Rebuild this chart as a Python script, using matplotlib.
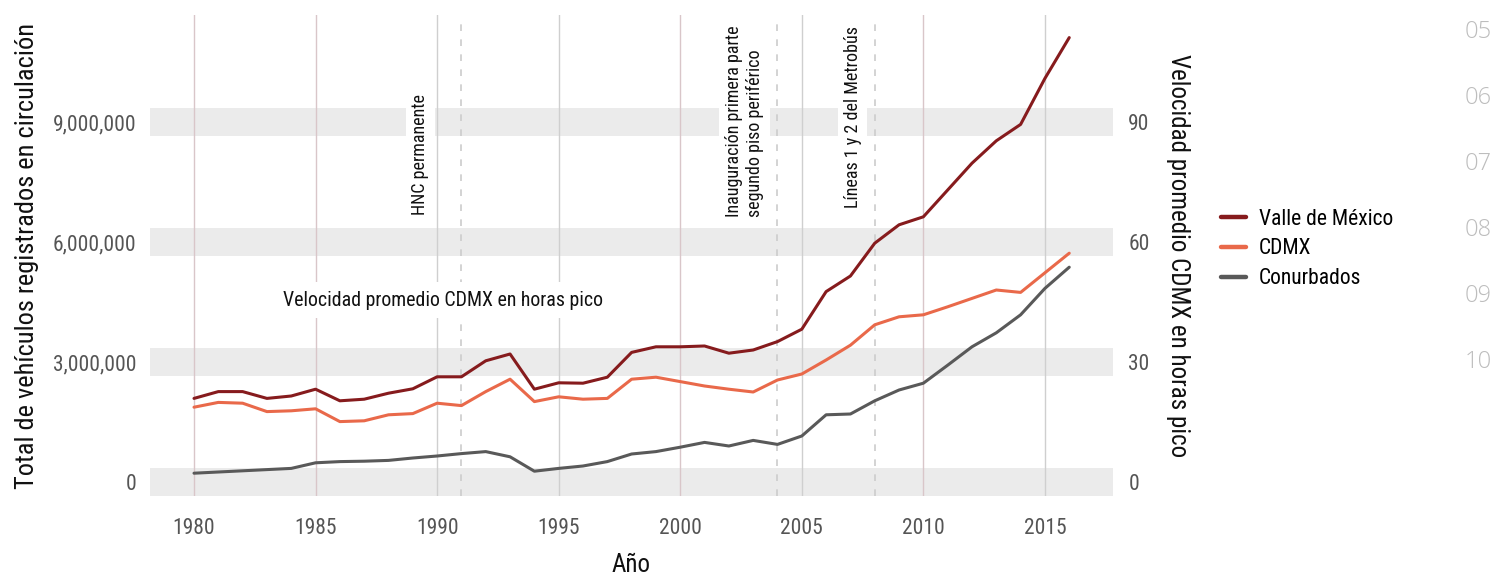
import matplotlib
matplotlib.use("Agg")
import matplotlib.pyplot as plt
from matplotlib import font_manager as fm
from matplotlib.ticker import FuncFormatter

# pick a condensed font if one is around
names = {f.name for f in fm.fontManager.ttflist}
FONT = "DejaVu Sans"
for cand in ["Roboto Condensed", "Liberation Sans Narrow", "Open Sans Condensed"]:
    if cand in names:
        FONT = cand
        break
plt.rcParams["font.family"] = [FONT, "DejaVu Sans"]
if FONT == "DejaVu Sans":
    plt.rcParams["font.stretch"] = "condensed"

# data
years = list(range(1980, 2017))
valle = [2.09, 2.26, 2.26, 2.09, 2.15, 2.32, 2.03, 2.07, 2.22, 2.33,
         2.63, 2.63, 3.03, 3.20, 2.32, 2.48, 2.47, 2.62, 3.24, 3.38,
         3.38, 3.40, 3.22, 3.30, 3.51, 3.82, 4.76, 5.15, 5.97, 6.43,
         6.63, 7.30, 7.97, 8.53, 8.94, 10.09, 11.11]
cdmx = [1.87, 1.99, 1.97, 1.76, 1.78, 1.83, 1.51, 1.53, 1.68, 1.71,
        1.97, 1.91, 2.26, 2.57, 2.01, 2.13, 2.07, 2.09, 2.57, 2.62,
        2.51, 2.40, 2.32, 2.25, 2.55, 2.70, 3.05, 3.42, 3.93, 4.13,
        4.18, 4.38, 4.59, 4.80, 4.74, 5.23, 5.72]
conurbados = [0.22, 0.25, 0.28, 0.31, 0.34, 0.48, 0.51, 0.52, 0.54, 0.60,
              0.65, 0.71, 0.76, 0.63, 0.27, 0.34, 0.40, 0.51, 0.70, 0.76,
              0.87, 0.99, 0.90, 1.04, 0.94, 1.15, 1.68, 1.70, 2.03, 2.30,
              2.47, 2.92, 3.38, 3.73, 4.18, 4.84, 5.37]
valle = [v * 1e6 for v in valle]
cdmx = [v * 1e6 for v in cdmx]
conurbados = [v * 1e6 for v in conurbados]

series = ["Valle de México", "CDMX", "Conurbados"]
colors = ["#861b1d", "#e9694a", "#595959"]

yticks = [0, 3000000, 6000000, 9000000]
xticks = [1980, 1985, 1990, 1995, 2000, 2005, 2010, 2015]
speed_ticks = [0, 30, 60, 90]

events = [1991, 2004, 2008]
event_labels = ["HNC permanente",
                "Inauguración primera parte\nsegundo piso periférico",
                "Líneas 1 y 2 del Metrobús"]
event_text_x = [1989.3, 2002.65, 2007.1]
event_text_y = [6.68e6, 6.62e6, 6.85e6]

side_labels = ["05", "06", "07", "08", "09", "10"]

fig = plt.figure(figsize=(14.93, 5.77), dpi=100)
ax = fig.add_axes([150 / 1493, 81 / 577, 963 / 1493, 481 / 577])
ax.set_xlim(1978.19, 2017.8)
ax.set_ylim(-0.35e6, 11.675e6)

for y in yticks:
    ax.axhspan(y - 0.35e6, y + 0.35e6, color="#ebebeb", lw=0, zorder=0)
for x in xticks:
    c = "#d9c6c9" if x in (1980, 1985, 2000, 2010) else "#cfcfcf"
    ax.axvline(x, color=c, lw=1.0, zorder=1)
for x in events:
    ax.axvline(x, ymax=0.985, color="#cccccc", lw=1.2, ls=(0, (4, 5)), zorder=1)

box = dict(facecolor="white", edgecolor="none", pad=4)
for x, y, t in zip(event_text_x, event_text_y, event_labels):
    ax.text(x, y, t, rotation=90, ha="center", va="bottom", multialignment="left",
            fontsize=13, color="#111111", bbox=box, zorder=2, linespacing=1.25)
ax.text(1990.25, 4.55e6, "Velocidad promedio CDMX en horas pico", ha="center", va="center",
        fontsize=14.3, color="#111111", bbox=dict(facecolor="white", edgecolor="none", pad=6),
        zorder=2)

lines = []
for vals, name, c in zip([valle, cdmx, conurbados], series, colors):
    l, = ax.plot(years, vals, color=c, lw=2.2, label=name, zorder=3, solid_capstyle="round")
    lines.append(l)

for s in ax.spines.values():
    s.set_visible(False)
ax.set_xticks(xticks)
ax.set_yticks(yticks)
ax.yaxis.set_major_formatter(FuncFormatter(lambda v, p: f"{int(v):,}"))
ax.tick_params(length=0, labelsize=15.5, labelcolor="#555555")
ax.tick_params(axis="x", pad=16)
ax.tick_params(axis="y", pad=10)
ax.set_xlabel("Año", fontsize=18, color="#111111", labelpad=10)
ax.set_ylabel("Total de vehículos registrados en circulación", fontsize=19,
              color="#111111", labelpad=10)

ax2 = ax.twinx()
ax2.set_ylim(-3.5, 116.75)
ax2.set_yticks(speed_ticks)
for s in ax2.spines.values():
    s.set_visible(False)
ax2.tick_params(length=0, labelsize=15.5, labelcolor="#555555", pad=11)
ax2.set_ylabel("Velocidad promedio CDMX en horas pico", fontsize=18, color="#111111",
               rotation=-90, va="bottom", labelpad=12)

leg = fig.legend(handles=lines, loc="center left", bbox_to_anchor=(1202 / 1493, 328 / 577),
                 frameon=False, fontsize=15.5, handlelength=1.15, handletextpad=0.6,
                 labelspacing=0.4)
for h in leg.legend_handles:
    h.set_linewidth(3.2)

for i, t in enumerate(side_labels):
    fig.text(1478 / 1493, 1 - (32 + 66 * i) / 577, t, ha="center", va="center",
             fontsize=17, color="#bdbdbd", family=["Open Sans", "DejaVu Sans"], fontweight="light")

fig.savefig("out.png", dpi=100)
